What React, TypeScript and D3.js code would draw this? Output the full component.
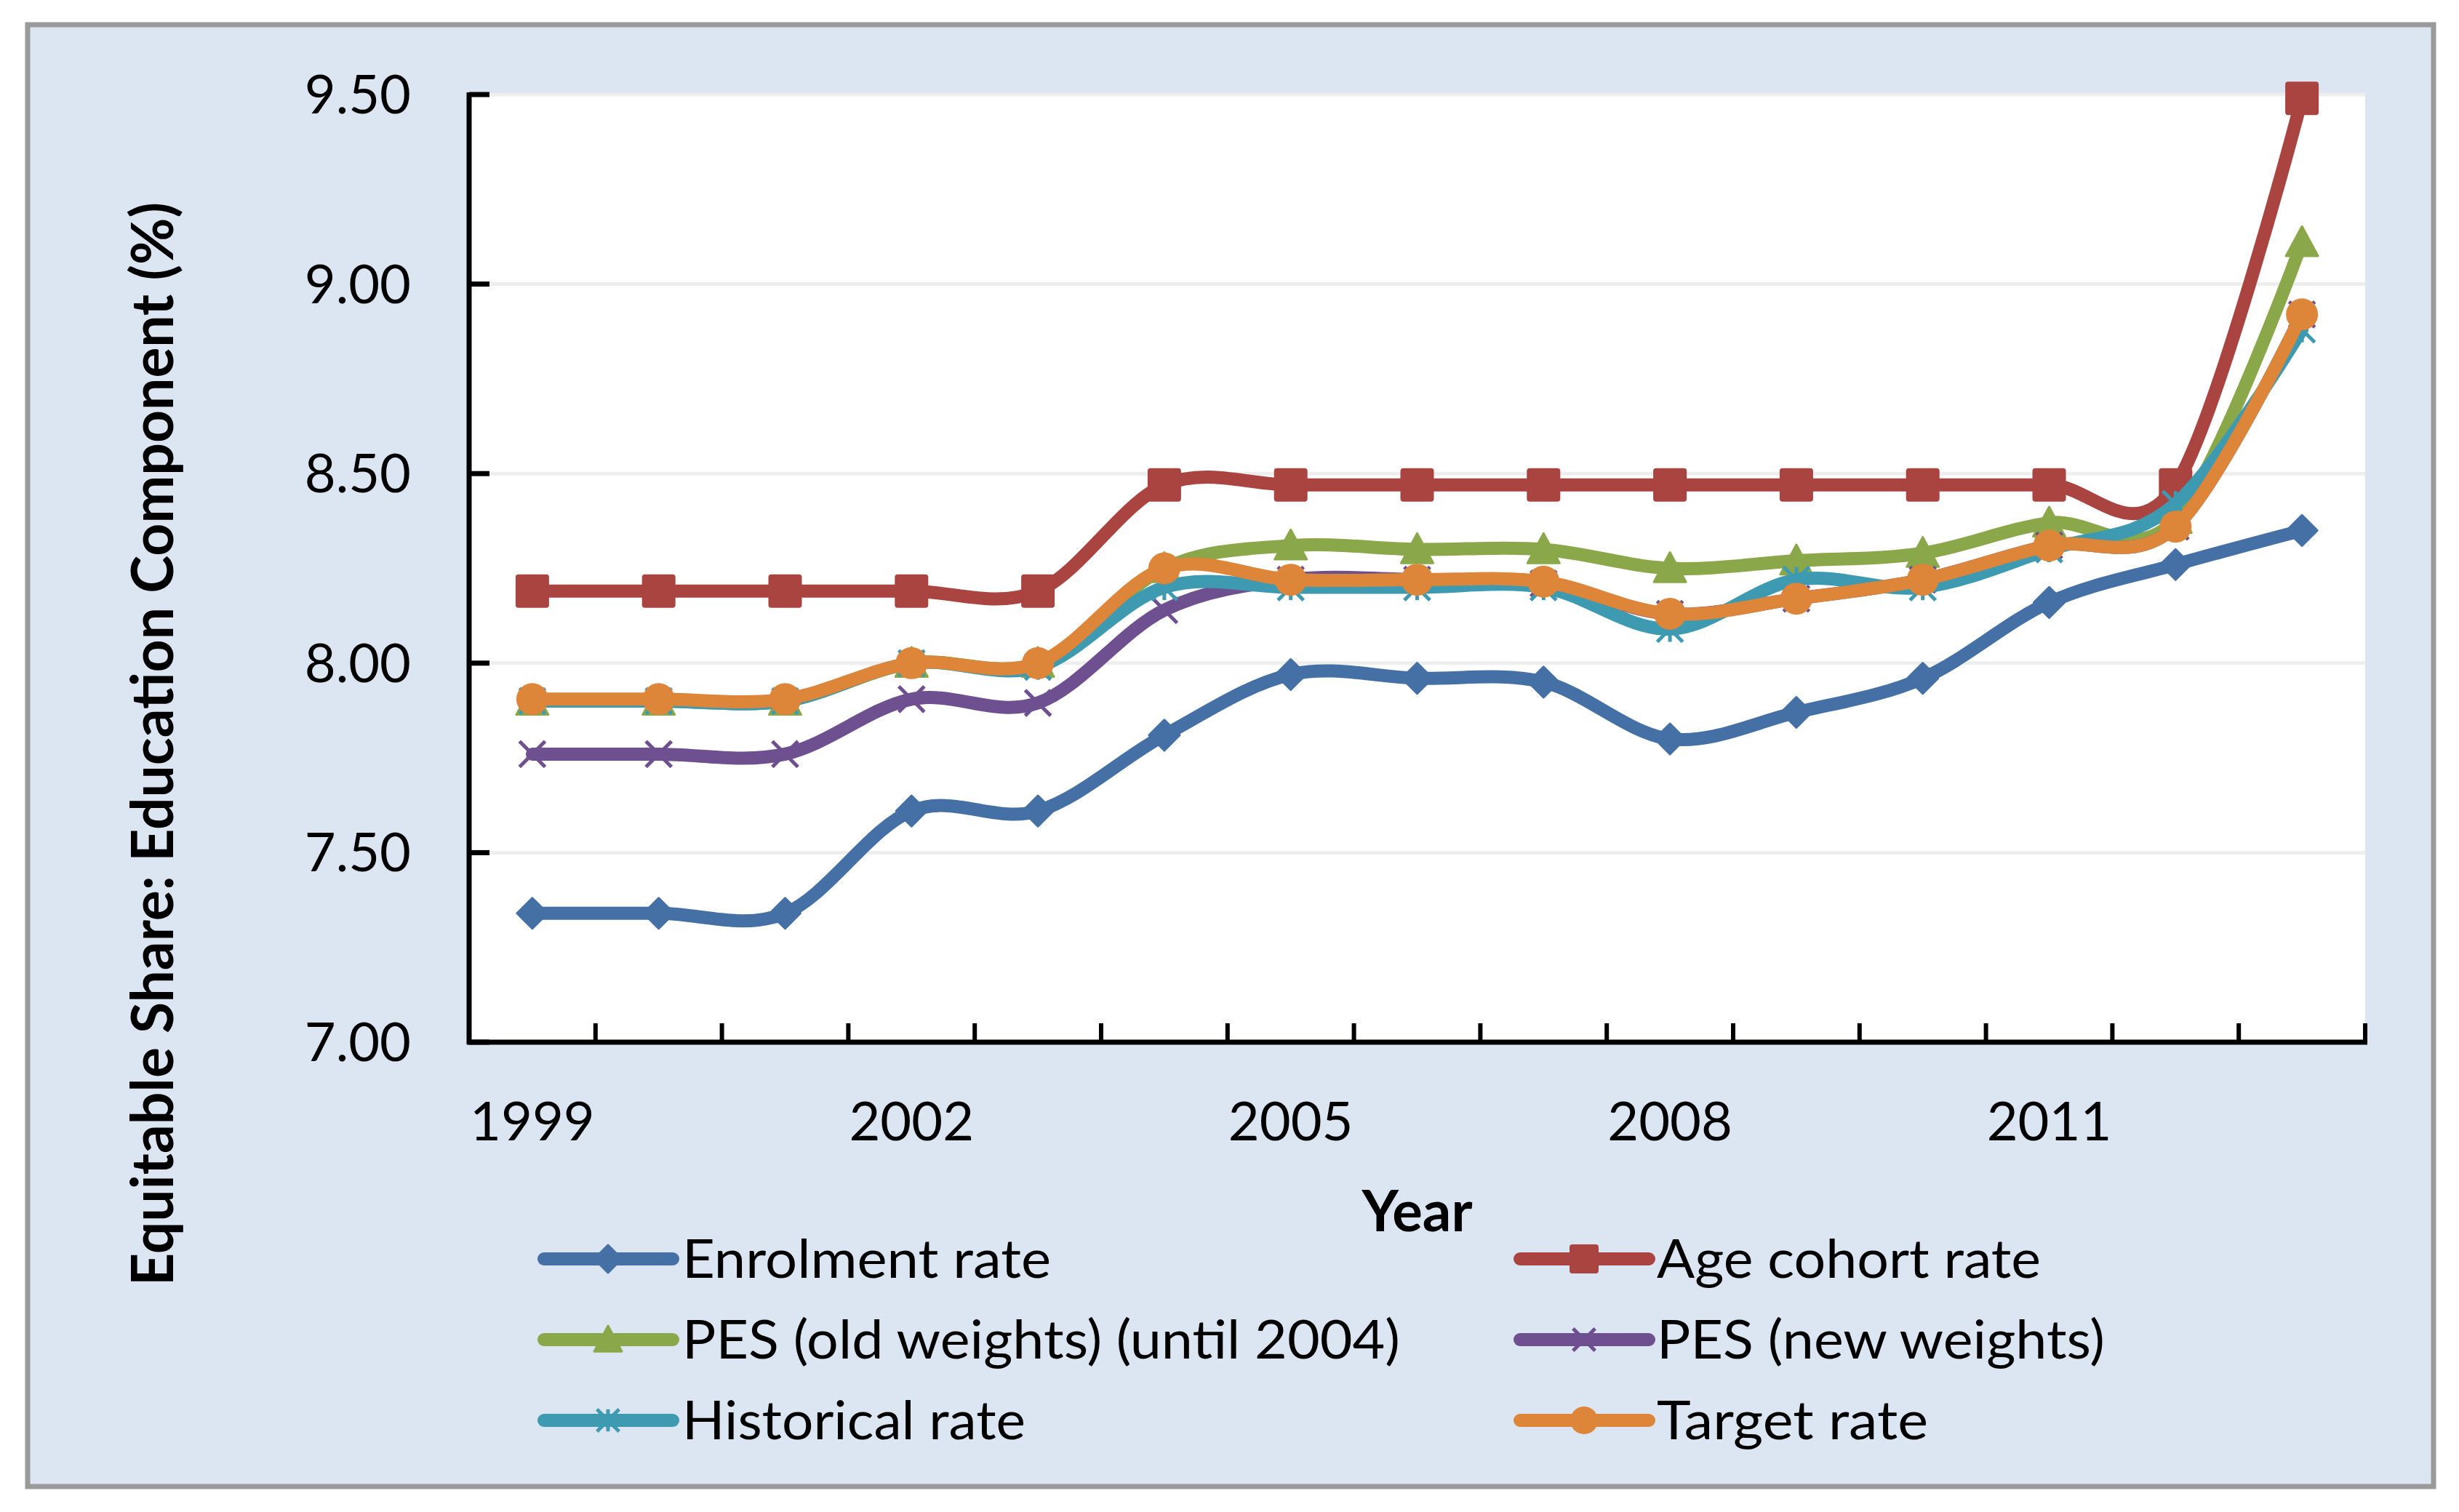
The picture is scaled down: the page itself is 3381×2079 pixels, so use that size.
import * as d3 from "d3";

// ---- data ----
const years = [1999, 2000, 2001, 2002, 2003, 2004, 2005, 2006, 2007, 2008, 2009, 2010, 2011, 2012, 2013];
const yearLabels = [1999, 2002, 2005, 2008, 2011];
const yTicks = [7.0, 7.5, 8.0, 8.5, 9.0, 9.5];

const enrolmentRate = [7.34, 7.34, 7.34, 7.61, 7.61, 7.81, 7.97, 7.96, 7.95, 7.8, 7.87, 7.96, 8.16, 8.26, 8.35];
const ageCohortRate = [8.19, 8.19, 8.19, 8.19, 8.19, 8.47, 8.47, 8.47, 8.47, 8.47, 8.47, 8.47, 8.47, 8.47, 9.49];
const pesOldWeights = [7.9, 7.9, 7.9, 8.0, 8.0, 8.25, 8.31, 8.3, 8.3, 8.25, 8.27, 8.29, 8.37, 8.38, 9.11];
const pesNewWeights = [7.76, 7.76, 7.76, 7.905, 7.895, 8.14, 8.22, 8.22, 8.21, 8.13, 8.17, 8.22, 8.31, 8.36, 8.92];
const historicalRate = [7.9, 7.9, 7.9, 8.0, 7.99, 8.2, 8.2, 8.2, 8.2, 8.09, 8.22, 8.2, 8.3, 8.42, 8.88];
const targetRate = [7.905, 7.905, 7.905, 8.0, 8.0, 8.25, 8.22, 8.22, 8.215, 8.13, 8.17, 8.22, 8.31, 8.36, 8.92];

const seriesNames = [
    "Enrolment rate",
    "Age cohort rate",
    "PES (old weights) (until 2004)",
    "PES (new weights)",
    "Historical rate",
    "Target rate",
];
const seriesValues = [enrolmentRate, ageCohortRate, pesOldWeights, pesNewWeights, historicalRate, targetRate];

// ---- styles ----
type Marker = "diamond" | "square" | "triangle" | "x" | "star" | "circle";
const seriesColors = ["#4470A6", "#AA4441", "#8AA84A", "#6E5090", "#3E9AB0", "#DD8539"];
const seriesMarkers: Marker[] = ["diamond", "square", "triangle", "x", "star", "circle"];
const legendTextWidths = [507, 528, 987, 616, 472, 373];

const W = 3381;
const H = 2079;
const plot = { left: 645, right: 3252, top: 130, bottom: 1433 };
const FONT = "Lato, 'Open Sans', 'DejaVu Sans', sans-serif";

function MarkerShape({ type, cx, cy, color, s }: { type: Marker; cx: number; cy: number; color: string; s: number }) {
    const r = s / 2;
    switch (type) {
        case "diamond":
            return (
                <polygon
                    points={`${cx},${cy - r} ${cx + r},${cy} ${cx},${cy + r} ${cx - r},${cy}`}
                    fill={color}
                    stroke={color}
                    strokeWidth={3}
                    strokeLinejoin="round"
                />
            );
        case "square":
            return <rect x={cx - r} y={cy - r} width={s} height={s} rx={3} fill={color} stroke={color} strokeWidth={2} />;
        case "triangle":
            return (
                <polygon
                    points={`${cx},${cy - r} ${cx + r},${cy + r * 0.85} ${cx - r},${cy + r * 0.85}`}
                    fill={color}
                    stroke={color}
                    strokeWidth={3}
                    strokeLinejoin="round"
                />
            );
        case "circle":
            return <circle cx={cx} cy={cy} r={r} fill={color} />;
        case "x": {
            const k = r * 0.8;
            return (
                <g stroke={color} strokeWidth={5}>
                    <line x1={cx - k} y1={cy - k} x2={cx + k} y2={cy + k} />
                    <line x1={cx - k} y1={cy + k} x2={cx + k} y2={cy - k} />
                </g>
            );
        }
        case "star": {
            const k = r * 0.8;
            return (
                <g stroke={color} strokeWidth={5}>
                    <line x1={cx - k} y1={cy - k} x2={cx + k} y2={cy + k} />
                    <line x1={cx - k} y1={cy + k} x2={cx + k} y2={cy - k} />
                    <line x1={cx} y1={cy - k} x2={cx} y2={cy + k} />
                </g>
            );
        }
    }
}

export default function App() {
    const x = d3.scalePoint<number>().domain(years).range([plot.left, plot.right]).padding(0.5);
    const band = d3.scaleBand<number>().domain(years).range([plot.left, plot.right]).padding(0);
    const y = d3.scaleLinear().domain([7, 9.5]).range([plot.bottom, plot.top]);

    const line = d3
        .line<number>()
        .x((_, i) => x(years[i]) ?? 0)
        .y((d) => y(d))
        .curve(d3.curveCatmullRom.alpha(0));

    const boundaries = [...years.map((yr) => band(yr) ?? 0), plot.right];

    return (
        <svg
            width={W}
            height={H}
            viewBox={`0 0 ${W} ${H}`}
            style={{ position: "absolute", left: 0, top: 0, background: "#ffffff" }}
            fontFamily={FONT}
        >
            {/* chart area */}
            <rect x={38} y={34} width={3308} height={2010} fill="#DCE6F2" stroke="#9A9A9A" strokeWidth={7} />

            {/* plot area */}
            <rect x={plot.left} y={plot.top - 2} width={plot.right - plot.left} height={plot.bottom - plot.top + 2} fill="#ffffff" />
            {yTicks.slice(1).map((t) => (
                <line key={t} x1={plot.left} x2={plot.right} y1={y(t)} y2={y(t)} stroke="#EEEEEE" strokeWidth={5} />
            ))}

            {/* series */}
            {seriesValues.map((vals, si) => (
                <g key={seriesNames[si]}>
                    <path
                        d={line(vals) ?? ""}
                        fill="none"
                        stroke={seriesColors[si]}
                        strokeWidth={18}
                        strokeLinejoin="round"
                        strokeLinecap="round"
                    />
                    {vals.map((v, i) => (
                        <MarkerShape
                            key={i}
                            type={seriesMarkers[si]}
                            cx={x(years[i]) ?? 0}
                            cy={y(v)}
                            color={seriesColors[si]}
                            s={seriesMarkers[si] === "diamond" ? 42 : 44}
                        />
                    ))}
                </g>
            ))}

            {/* y axis */}
            <line x1={plot.left} x2={plot.left} y1={plot.top - 3} y2={plot.bottom + 3} stroke="#000" strokeWidth={7} />
            {yTicks.map((t) => (
                <g key={t}>
                    <line x1={plot.left} x2={plot.left + 28} y1={y(t)} y2={y(t)} stroke="#000" strokeWidth={7} />
                    <text x={565} y={y(t) + 26} textAnchor="end" fontSize={74} fill="#000">
                        {t.toFixed(2)}
                    </text>
                </g>
            ))}

            {/* x axis */}
            <line x1={plot.left - 3} x2={plot.right + 3} y1={plot.bottom} y2={plot.bottom} stroke="#000" strokeWidth={7} />
            {boundaries.map((bx, i) => (
                <line key={i} x1={bx} x2={bx} y1={plot.bottom} y2={plot.bottom - 26} stroke="#000" strokeWidth={6} />
            ))}
            {yearLabels.map((yr) => (
                <text key={yr} x={x(yr)} y={1568} textAnchor="middle" fontSize={74} fill="#000">
                    {yr}
                </text>
            ))}

            {/* axis titles */}
            <text x={(plot.left + plot.right) / 2} y={1693} textAnchor="middle" fontSize={78} fontWeight="bold" fill="#000">
                Year
            </text>
            <text
                transform="translate(238,1023) rotate(-90)"
                textAnchor="middle"
                fontSize={80}
                fontWeight="bold"
                fill="#000"
                textLength={1490}
                lengthAdjust="spacingAndGlyphs"
            >
                Equitable Share: Education Component (%)
            </text>

            {/* legend */}
            {seriesNames.map((name, i) => {
                const col = i % 2;
                const row = Math.floor(i / 2);
                const lx = col === 0 ? 748 : 2090;
                const ly = 1731 + row * 111;
                const tx = col === 0 ? 938 : 2278;
                return (
                    <g key={name}>
                        <line x1={lx} x2={lx + 177} y1={ly} y2={ly} stroke={seriesColors[i]} strokeWidth={18} strokeLinecap="round" />
                        <MarkerShape type={seriesMarkers[i]} cx={lx + 88} cy={ly} color={seriesColors[i]} s={38} />
                        <text
                            x={tx}
                            y={ly + 26}
                            fontSize={74}
                            fill="#000"
                            textLength={legendTextWidths[i]}
                            lengthAdjust="spacingAndGlyphs"
                        >
                            {name}
                        </text>
                    </g>
                );
            })}
        </svg>
    );
}
